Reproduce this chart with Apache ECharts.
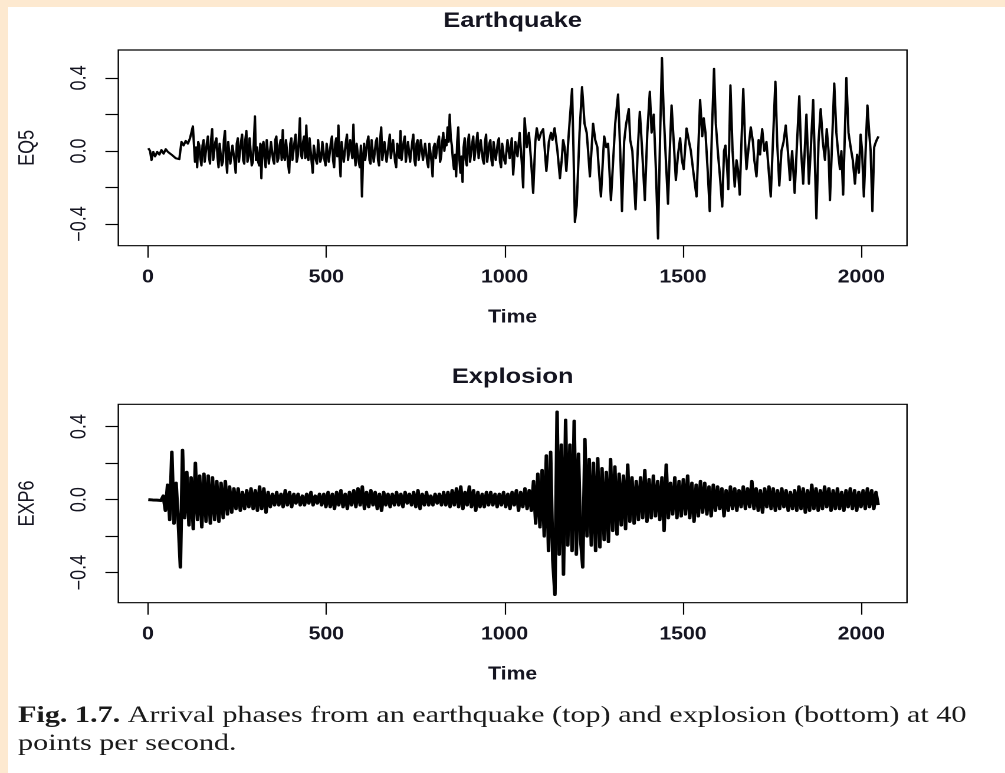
<!DOCTYPE html>
<html><head><meta charset="utf-8">
<script src="https://cdn.jsdelivr.net/npm/echarts@6/dist/echarts.min.js"></script>
<style>
html,body{margin:0;padding:0;width:1005px;height:773px;overflow:hidden;background:#FDE9D0;}
#paper{position:absolute;left:8px;top:7px;right:0;bottom:0;background:#fff;}
#chart{position:absolute;left:0;top:0;width:852px;height:773px;transform:scaleX(1.1796);transform-origin:0 0;}
</style></head><body><div id="paper"></div><div id="chart"></div>
<script>
// ---- data ----
const timeTicks = [0, 500, 1000, 1500, 2000];
const ampTicks = [-0.4, -0.2, 0, 0.2, 0.4];
const ampLabels = [-0.4, 0, 0.4];

// Earthquake EQ5: quiet start (time, value)
const eq5Head = [[1,0.015],[6,0.0],[10,-0.05],[15,-0.005],[20,-0.03],[26,-0.005],[32,-0.02],[38,0.005],[44,-0.015],[50,0.01],[56,-0.005],[62,0.0],[66,-0.02],[72,-0.01],[78,-0.04],[84,-0.05],[88,-0.045],[94,0.05],[100,0.03],[106,0.055],[112,0.04],[118,0.07],[122,0.06],[126,0.135]];
// Earthquake EQ5: P-wave noise, one value every 3 samples from t=132
const eq5BodyStart = 132, eq5BodyStep = 3;
const eq5Body = [
-0.06,0.02,-0.09,0.05,0.03,-0.04,-0.08,0.03,0.06,-0.06,-0.05,0.04,0.08,-0.03,-0.07,0.06,0.12,-0.05,-0.04,0.05,
0.07,-0.03,-0.09,0.04,0.05,-0.08,-0.06,0.06,0.11,-0.04,-0.12,0.05,0.06,-0.07,-0.08,0.03,0.04,-0.06,-0.12,0.04,
0.07,-0.06,-0.05,0.05,0.09,-0.05,-0.07,0.06,0.11,-0.06,-0.03,0.07,0.08,-0.08,-0.06,0.05,0.19,-0.05,0.02,-0.06,
-0.08,0.04,-0.15,0.03,0.05,-0.04,-0.09,0.06,0.07,-0.07,-0.06,0.05,0.04,-0.05,-0.07,0.06,0.08,-0.06,-0.04,0.03,
0.06,-0.05,0.115,-0.03,-0.05,0.06,0.05,-0.07,-0.12,0.04,0.07,-0.05,-0.06,0.05,0.09,-0.06,-0.03,0.06,0.18,-0.02,
-0.04,0.05,0.08,-0.04,0.14,-0.03,-0.05,0.07,0.06,-0.06,-0.12,0.03,0.04,-0.05,-0.07,0.06,0.05,-0.06,-0.04,0.05,
0.06,-0.05,-0.08,0.04,0.05,-0.06,-0.06,0.05,0.08,-0.05,-0.09,0.04,0.07,-0.03,0.14,-0.04,-0.14,0.05,0.06,-0.06,
-0.07,0.05,0.09,-0.05,-0.05,0.06,0.07,-0.04,0.145,-0.02,-0.08,0.04,0.05,-0.06,-0.09,0.03,-0.25,-0.04,0.04,-0.05,
-0.06,0.05,0.08,-0.05,-0.07,0.06,0.05,-0.06,-0.05,0.05,0.07,-0.05,-0.08,0.06,0.13,-0.05,-0.04,0.05,0.06,-0.06,
-0.07,0.04,0.09,-0.04,-0.05,0.06,0.07,-0.06,-0.09,0.04,0.05,-0.04,0.11,-0.05,-0.06,0.05,0.08,-0.06,-0.07,0.05,
0.04,-0.06,-0.05,0.05,0.09,-0.05,-0.08,0.04,0.06,-0.05,-0.04,0.06,0.07,-0.05,-0.06,0.04,0.05,-0.06,-0.09,0.04,
0.03,-0.06,-0.14,0.02,0.04,-0.04,-0.05,0.05,0.08,-0.06,-0.03,0.05,0.1,0.0,0.06,0.03,0.13,0.05,0.2,0.07,
0.03,-0.05,-0.1,-0.02,-0.14,0.05,0.13,-0.04,-0.12,-0.03,-0.17,0.02,0.07,-0.05,-0.08,0.05,0.09,-0.06,-0.05,0.04,
0.08,-0.05,-0.06,0.05,0.1,-0.04,-0.04,0.06,0.07,-0.05,-0.07,0.05,0.09,-0.06,-0.05,0.04,0.06,-0.05,-0.08,0.05,
0.04,-0.05,-0.06,0.05,0.07,-0.06,-0.09,0.04,0.03,-0.05,-0.07];
// Earthquake EQ5: S-wave part (time, value)
const eq5Tail = [[1008,0.06],[1014,-0.04],[1020,0.07],[1024,-0.13],[1030,0.05],[1036,-0.03],[1042,0.1],[1048,-0.06],[1052,-0.2],[1056,0.18],[1062,0.02],[1068,0.1],[1074,-0.05],[1080,-0.23],[1086,0.05],[1090,0.125],[1096,0.06],[1102,0.1],[1108,0.12],[1112,0.02],[1117,-0.11],[1124,0.05],[1130,0.1],[1134,0.06],[1140,0.125],[1148,0.0],[1155,-0.15],[1160,-0.05],[1164,0.06],[1168,0.02],[1173,-0.11],[1180,0.1],[1189,0.34],[1193,0.0],[1197,-0.39],[1202,-0.3],[1210,0.1],[1217,0.35],[1224,0.15],[1230,0.1],[1234,0.0],[1239,-0.14],[1248,0.15],[1254,0.06],[1260,0.02],[1264,-0.1],[1270,-0.25],[1279,0.08],[1285,0.02],[1290,0.04],[1298,-0.27],[1310,0.15],[1318,0.31],[1324,0.0],[1329,-0.33],[1335,0.05],[1340,0.14],[1348,0.23],[1352,0.06],[1358,0.0],[1367,-0.32],[1373,0.0],[1379,0.215],[1385,0.02],[1393,-0.27],[1400,0.1],[1407,0.325],[1412,0.1],[1418,0.2],[1424,-0.1],[1430,-0.48],[1436,0.1],[1441,0.51],[1446,0.2],[1452,-0.05],[1458,-0.29],[1463,0.0],[1468,0.25],[1474,0.05],[1480,-0.16],[1486,-0.02],[1492,0.07],[1497,-0.05],[1502,-0.1],[1510,0.124],[1516,0.06],[1522,0.0],[1530,-0.13],[1538,-0.25],[1548,0.28],[1554,0.08],[1558,0.18],[1563,0.1],[1569,-0.1],[1575,-0.33],[1581,0.1],[1587,0.45],[1592,0.15],[1598,-0.01],[1604,-0.15],[1610,-0.305],[1615,0.0],[1619,0.03],[1624,-0.1],[1627,-0.21],[1633,0.36],[1639,0.0],[1645,-0.196],[1650,-0.05],[1654,-0.1],[1659,-0.24],[1669,0.34],[1674,0.05],[1678,-0.1],[1684,0.02],[1690,0.13],[1696,0.05],[1700,-0.05],[1706,-0.14],[1712,0.06],[1716,-0.02],[1722,0.12],[1728,0.0],[1734,0.05],[1740,-0.1],[1746,-0.25],[1759,0.38],[1764,0.05],[1770,-0.19],[1776,0.0],[1782,0.05],[1788,0.14],[1794,0.0],[1800,-0.16],[1806,0.0],[1813,-0.23],[1826,0.3],[1831,0.0],[1837,-0.18],[1846,0.2],[1853,-0.18],[1858,0.0],[1865,0.28],[1874,-0.37],[1880,0.05],[1886,0.23],[1892,0.05],[1898,-0.05],[1903,0.12],[1908,0.0],[1912,-0.27],[1924,0.37],[1930,0.1],[1935,-0.01],[1940,-0.1],[1944,0.0],[1949,-0.24],[1958,0.4],[1964,0.1],[1970,0.02],[1976,-0.05],[1982,-0.18],[1988,-0.02],[1993,-0.12],[1998,0.09],[2002,0.0],[2007,-0.25],[2017,0.25],[2022,0.1],[2026,0.0],[2031,-0.33],[2036,0.02],[2039,0.04],[2043,0.06],[2048,0.08]];

// Explosion EXP6: one value every 6 samples from t=1
const exp6Start = 1, exp6Step = 6;
const exp6 = [
0.0,0.002,-0.002,0.003,-0.003,0.004,-0.005,0.02,-0.06,0.08,
-0.11,0.26,-0.13,0.09,-0.12,-0.37,0.27,-0.1,0.15,-0.14,
0.12,-0.16,0.2,-0.11,0.13,-0.15,0.14,-0.12,0.13,-0.13,
0.12,-0.11,0.1,-0.12,0.09,-0.1,0.1,-0.08,0.07,-0.07,
0.06,-0.05,0.06,-0.06,0.04,-0.05,0.05,-0.04,0.06,-0.05,
0.05,-0.06,0.07,-0.05,0.06,-0.07,0.04,-0.04,0.03,-0.03,
0.04,-0.03,0.03,-0.04,0.05,-0.03,0.04,-0.04,0.03,-0.02,
0.03,-0.03,0.02,-0.03,0.03,-0.02,0.04,-0.03,0.02,-0.02,
0.03,-0.03,0.03,-0.04,0.04,-0.04,0.03,-0.05,0.04,-0.03,
0.05,-0.04,0.03,-0.05,0.04,-0.03,0.05,-0.04,0.06,-0.03,
0.07,-0.05,0.04,-0.04,0.05,-0.03,0.04,-0.05,0.03,-0.06,
0.04,-0.03,0.03,-0.04,0.03,-0.03,0.04,-0.03,0.03,-0.04,
0.04,-0.02,0.03,-0.03,0.04,-0.04,0.05,-0.05,0.03,-0.03,
0.04,-0.03,0.02,-0.03,0.03,-0.02,0.03,-0.03,0.04,-0.03,
0.04,-0.04,0.05,-0.03,0.06,-0.04,0.07,-0.05,0.04,-0.03,
0.07,-0.04,0.05,-0.06,0.04,-0.04,0.03,-0.04,0.04,-0.03,
0.04,-0.03,0.03,-0.04,0.03,-0.03,0.04,-0.04,0.03,-0.05,
0.04,-0.03,0.05,-0.06,0.04,-0.04,0.06,-0.05,0.05,-0.06,
0.1,-0.13,0.14,-0.15,0.16,-0.2,0.24,-0.28,0.26,-0.33,
-0.52,0.48,-0.3,0.3,-0.41,0.435,-0.25,0.3,-0.28,0.43,
-0.3,0.25,-0.22,-0.37,0.33,-0.2,0.22,-0.25,0.2,-0.28,
0.225,-0.26,0.17,-0.22,0.15,-0.23,0.22,-0.17,0.18,-0.19,
0.14,-0.14,0.13,-0.16,0.19,-0.12,0.12,-0.13,0.1,-0.11,
0.12,-0.1,0.16,-0.12,0.11,-0.1,0.13,-0.09,0.1,-0.11,
0.12,-0.17,0.19,-0.1,0.09,-0.08,0.12,-0.1,0.1,-0.09,
0.11,-0.08,0.13,-0.1,0.09,-0.12,0.08,-0.09,0.1,-0.07,
0.09,-0.08,0.07,-0.09,0.08,-0.06,0.07,-0.05,0.06,-0.09,
0.05,-0.06,0.07,-0.05,0.06,-0.06,0.05,-0.04,0.07,-0.05,
0.06,-0.04,0.1,-0.05,0.06,-0.06,0.05,-0.07,0.06,-0.04,
0.07,-0.05,0.06,-0.06,0.05,-0.05,0.06,-0.04,0.05,-0.06,
0.04,-0.05,0.05,-0.06,0.07,-0.05,0.06,-0.07,0.05,-0.06,
0.08,-0.05,0.06,-0.06,0.05,-0.05,0.07,-0.04,0.06,-0.06,
0.05,-0.05,0.06,-0.05,0.04,-0.06,0.05,-0.04,0.06,-0.05,
0.05,-0.06,0.04,-0.04,0.05,-0.05,0.06,-0.04,0.05,-0.05,
0.04,-0.03];

// ---- build series data ----
const eq5Data = eq5Head
  .concat(eq5Body.map((v, i) => [eq5BodyStart + i * eq5BodyStep, v]))
  .concat(eq5Tail);
const exp6Data = exp6.map((v, i) => [exp6Start + i * exp6Step, v]);

// ---- styling ----
const SANS = 'Liberation Sans';
const INK = '#141420';
const fmtAmp = v => (v < -1e-9 ? '\u2212' : '') + Math.abs(v).toFixed(1);

function xAxisFor(gi) {
  return {
    gridIndex: gi, type: 'value', min: -83, max: 2128,
    name: 'Time', nameLocation: 'middle', nameGap: 63,
    nameTextStyle: { fontSize: 18, fontWeight: 'bold', fontFamily: SANS, color: INK },
    axisLine: { show: false, onZero: false }, splitLine: { show: false },
    axisTick: { show: true, inside: false, length: 12, customValues: timeTicks,
      lineStyle: { color: '#000', width: 1.1 } },
    axisLabel: { customValues: timeTicks, margin: 23, fontSize: 18, fontWeight: 'bold',
      fontFamily: SANS, color: INK, formatter: v => String(v) }
  };
}
function yAxisFor(gi, name, min, max) {
  return {
    gridIndex: gi, type: 'value', min: min, max: max,
    name: name, nameLocation: 'middle', nameGap: 68,
    nameTextStyle: { fontSize: 18, fontFamily: SANS, color: INK },
    axisLine: { show: false, onZero: false }, splitLine: { show: false },
    axisTick: { show: true, inside: false, length: 11, customValues: ampTicks,
      lineStyle: { color: '#000', width: 1.2 } },
    axisLabel: { customValues: ampLabels, rotate: 90, margin: 24, fontSize: 18,
      fontFamily: SANS, color: INK, formatter: fmtAmp }
  };
}

const chart = echarts.init(document.getElementById('chart'), null, { renderer: 'canvas', devicePixelRatio: 2 });
chart.setOption({
  animation: false,
  backgroundColor: 'transparent',
  grid: [
    { left: 100.3, top: 50, width: 668.6, height: 195.7, show: true, borderColor: '#000', borderWidth: 1.2, backgroundColor: 'transparent' },
    { left: 100.3, top: 404.3, width: 668.6, height: 198.4, show: true, borderColor: '#000', borderWidth: 1.2, backgroundColor: 'transparent' }
  ],
  xAxis: [xAxisFor(0), xAxisFor(1)],
  yAxis: [yAxisFor(0, 'EQ5', -0.519, 0.553), yAxisFor(1, 'EXP6', -0.565, 0.522)],
  series: [
    { type: 'line', xAxisIndex: 0, yAxisIndex: 0, data: eq5Data, showSymbol: false, symbol: 'none',
      lineStyle: { color: '#000', width: 2.0, join: 'round' }, silent: true },
    { type: 'line', xAxisIndex: 1, yAxisIndex: 1, data: exp6Data, showSymbol: false, symbol: 'none',
      lineStyle: { color: '#000', width: 3.0, join: 'round' }, silent: true }
  ],
  graphic: [
    { type: 'text', x: 434.6, y: 10, silent: true,
      style: { text: 'Earthquake', align: 'center', verticalAlign: 'top', fontSize: 21.6, fontWeight: 'bold', fontFamily: SANS, fill: INK } },
    { type: 'text', x: 434.6, y: 366, silent: true,
      style: { text: 'Explosion', align: 'center', verticalAlign: 'top', fontSize: 21.6, fontWeight: 'bold', fontFamily: SANS, fill: INK } },
    { type: 'text', x: 15.3, y: 702, scaleX: 1.111, silent: true,
      style: {
        text: '{b|Fig. 1.7.} Arrival phases from an earthquake (top) and explosion (bottom) at 40\npoints per second.',
        fontSize: 23, fontFamily: 'Liberation Serif', fill: '#1a1a1a', lineHeight: 28,
        rich: { b: { fontWeight: 'bold', fontSize: 23, fontFamily: 'Liberation Serif', fill: '#1a1a1a', lineHeight: 28 } }
      } }
  ]
});
</script></body></html>
